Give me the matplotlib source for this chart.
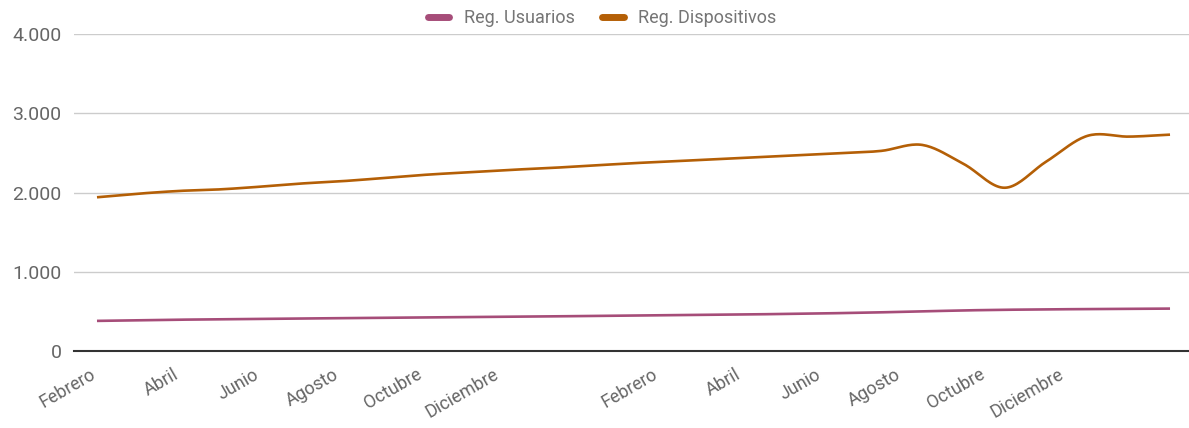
import numpy as np
import matplotlib
matplotlib.use("Agg")
import matplotlib.pyplot as plt
from matplotlib.ticker import FuncFormatter

# ---------------- data ----------------
series_names = ["Reg. Usuarios", "Reg. Dispositivos"]
usuarios = [380, 388, 395, 400, 405, 410, 415, 420, 424, 428, 432, 437, 442, 447,
            452, 457, 463, 470, 478, 488, 500, 512, 520, 525, 529, 532, 535]
dispositivos = [1940, 1985, 2020, 2040, 2075, 2115, 2145, 2185, 2225, 2255, 2285,
                2310, 2340, 2370, 2395, 2420, 2445, 2470, 2495, 2525, 2600, 2360,
                2060, 2390, 2715, 2705, 2730]
tick_labels = ["Febrero", "Abril", "Junio", "Agosto", "Octubre", "Diciembre",
               "Febrero", "Abril", "Junio", "Agosto", "Octubre", "Diciembre"]
y_ticks = [0, 1000, 2000, 3000, 4000]

# ---------------- layout ----------------
tick_pos = [-0.07, 1.94, 3.88, 5.82, 7.83, 9.69, 13.54, 15.56, 17.5, 19.43, 21.47, 23.4]
colors = ["#a64d79", "#b45f06"]

plt.rcParams['font.family'] = ['Roboto', 'DejaVu Sans']


def smooth(x, y, n=20):
    """Catmull-Rom style curve through the points (like Google 'function' curves)."""
    x = np.asarray(x, float)
    y = np.asarray(y, float)
    m = np.zeros_like(y)
    m[1:-1] = (y[2:] - y[:-2]) / (x[2:] - x[:-2])
    m[0] = (y[1] - y[0]) / (x[1] - x[0])
    m[-1] = (y[-1] - y[-2]) / (x[-1] - x[-2])
    xs, ys = [], []
    for i in range(len(x) - 1):
        h = x[i + 1] - x[i]
        t = np.linspace(0, 1, n, endpoint=False)
        h00 = 2 * t**3 - 3 * t**2 + 1
        h10 = t**3 - 2 * t**2 + t
        h01 = -2 * t**3 + 3 * t**2
        h11 = t**3 - t**2
        xs.append(x[i] + t * h)
        ys.append(h00 * y[i] + h10 * h * m[i] + h01 * y[i + 1] + h11 * h * m[i + 1])
    xs.append([x[-1]])
    ys.append([y[-1]])
    return np.concatenate(xs), np.concatenate(ys)


fig = plt.figure(figsize=(11.89, 4.28), dpi=100)
ax = fig.add_axes([74 / 1189, 77 / 428, 1 - 74 / 1189, (351 - 34) / 428])

xk = np.arange(len(usuarios))
handles = []
for vals, col, name in zip([usuarios, dispositivos], colors, series_names):
    sx, sy = smooth(xk, vals)
    ax.plot(sx, sy, color=col, lw=1.9, solid_capstyle='butt', zorder=3)
    h, = ax.plot([], [], color=col, lw=5, solid_capstyle='round', label=name)
    handles.append(h)

ax.set_xlim(-0.557, 26.46)
ax.set_ylim(0, 4000)
ax.set_yticks(y_ticks)
ax.yaxis.set_major_formatter(FuncFormatter(lambda v, p: f"{int(v):,}".replace(",", ".")))
ax.grid(axis='y', color='#cccccc', lw=1)
ax.set_axisbelow(True)
for s in ['top', 'right', 'left']:
    ax.spines[s].set_visible(False)
ax.spines['bottom'].set_color('#333333')
ax.spines['bottom'].set_linewidth(1.5)
ax.spines['bottom'].set_zorder(4)

ax.set_xticks(tick_pos)
ax.set_xticklabels(tick_labels, rotation=30, ha='right', va='center', rotation_mode='anchor')
ax.tick_params(axis='x', length=0, pad=16, labelsize=13, labelcolor='#666666')
ax.tick_params(axis='y', length=0, pad=9, labelsize=14, labelcolor='#666666')

leg = fig.legend(handles=handles, loc='center', bbox_to_anchor=(602 / 1189, 1 - 18 / 428),
                 ncol=2, frameon=False, fontsize=13, handlelength=1.2,
                 handletextpad=0.8, columnspacing=1.5)
for t in leg.get_texts():
    t.set_color('#757575')

fig.savefig("out.png", dpi=100)
